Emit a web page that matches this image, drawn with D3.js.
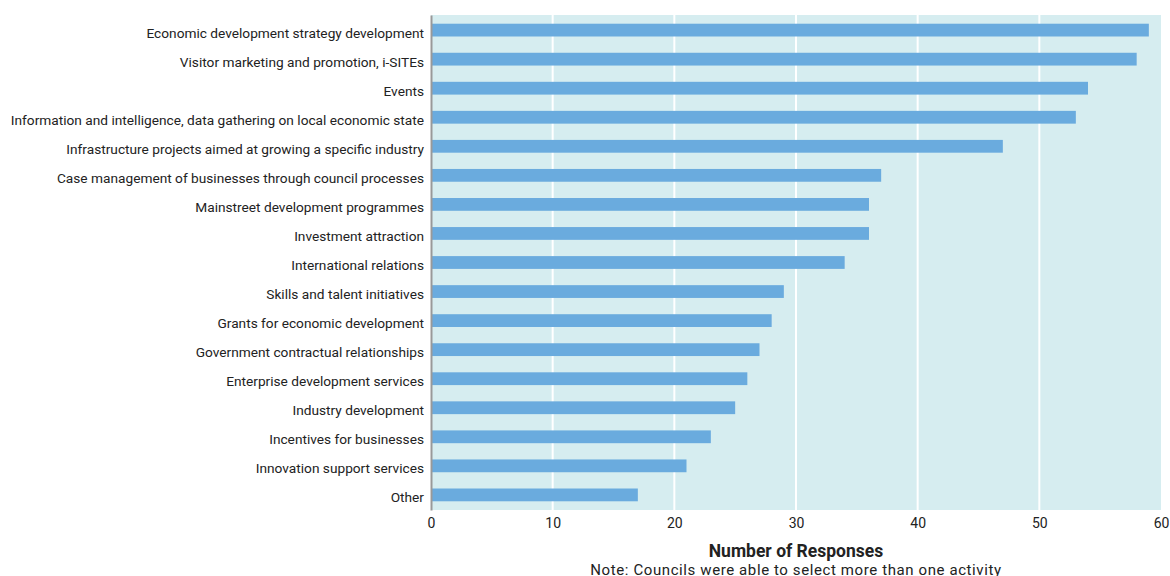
<!DOCTYPE html>
<html lang="en">
<head>
  <meta charset="UTF-8">
  <script src="https://cdn.jsdelivr.net/npm/d3@7"></script>
  <style>
    body { margin: 0; background: #fff; }
    text { font-family: Roboto, "Noto Sans", sans-serif; fill: #222; }
  </style>
</head>
<body>
<div id="chart"></div>
<script>
  var activities = [
    "Economic development strategy development",
    "Visitor marketing and promotion, i-SITEs",
    "Events",
    "Information and intelligence, data gathering on local economic state",
    "Infrastructure projects aimed at growing a specific industry",
    "Case management of businesses through council processes",
    "Mainstreet development programmes",
    "Investment attraction",
    "International relations",
    "Skills and talent initiatives",
    "Grants for economic development",
    "Government contractual relationships",
    "Enterprise development services",
    "Industry development",
    "Incentives for businesses",
    "Innovation support services",
    "Other"
  ];
  var responses = [59, 58, 54, 53, 47, 37, 36, 36, 34, 29, 28, 27, 26, 25, 23, 21, 17];
  var xTicks = [0, 10, 20, 30, 40, 50, 60];

  var W = 1170, H = 576;
  var margin = {top: 15, right: 9, bottom: 66, left: 431};
  var width = W - margin.left - margin.right;
  var height = H - margin.top - margin.bottom;

  var svg = d3.select("#chart").append("svg")
    .attr("width", W).attr("height", H);

  var g = svg.append("g")
    .attr("transform", "translate(" + margin.left + "," + margin.top + ")");

  var x = d3.scaleLinear().domain([0, 60]).range([0, width]);
  var y = d3.scaleBand().domain(activities).range([0, height]).paddingInner(0.56).paddingOuter(0.3);

  // background
  g.append("rect")
    .attr("width", width).attr("height", height)
    .attr("fill", "#d6edf0");

  // gridlines
  g.selectAll(".grid")
    .data(xTicks.slice(1, -1))
    .enter().append("line")
    .attr("x1", function(d) { return x(d); })
    .attr("x2", function(d) { return x(d); })
    .attr("y1", 0).attr("y2", height)
    .attr("stroke", "#fff").attr("stroke-width", 2);

  // bars
  g.selectAll(".bar")
    .data(responses)
    .enter().append("rect")
    .attr("x", 0)
    .attr("y", function(d, i) { return y(activities[i]); })
    .attr("width", function(d) { return x(d); })
    .attr("height", y.bandwidth())
    .attr("fill", "#6aabde");

  // y axis
  var yAxis = g.append("g")
    .call(d3.axisLeft(y).tickSize(0).tickPadding(7));
  yAxis.select(".domain").attr("stroke", "#999").attr("stroke-width", 2);
  yAxis.selectAll("text")
    .style("font-size", "13.7px")
    .attr("dy", "0.55em")
    .attr("fill", "#222");

  // x axis
  var xAxis = g.append("g")
    .attr("transform", "translate(0," + height + ")")
    .call(d3.axisBottom(x).tickValues(xTicks).tickSize(0).tickPadding(8));
  xAxis.select(".domain").remove();
  xAxis.selectAll("text").style("font-size", "14px").attr("fill", "#222");

  svg.append("text")
    .attr("x", margin.left + width / 2)
    .attr("y", 557)
    .attr("text-anchor", "middle")
    .style("font-size", "17.5px")
    .style("font-weight", "bold")
    .text("Number of Responses");

  svg.append("text")
    .attr("x", margin.left + width / 2)
    .attr("y", 575)
    .attr("text-anchor", "middle")
    .style("font-size", "15px")
    .style("letter-spacing", "0.6px")
    .text("Note: Councils were able to select more than one activity");
</script>
</body>
</html>
